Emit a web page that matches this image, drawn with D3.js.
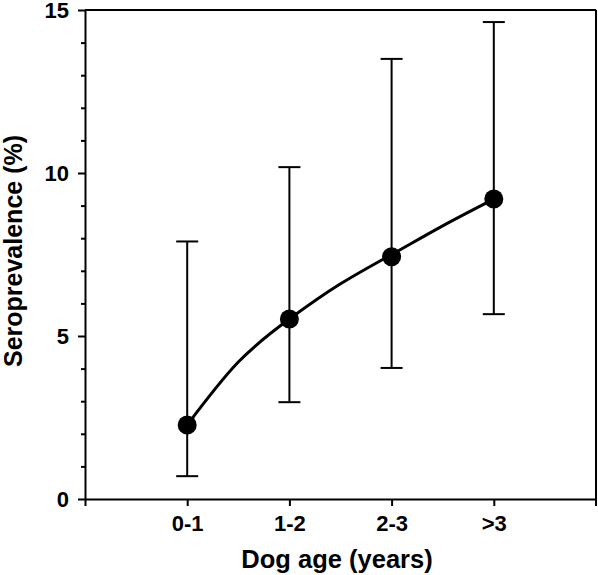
<!DOCTYPE html>
<html><head><meta charset="utf-8">
<script src="https://cdn.jsdelivr.net/npm/d3@7"></script>
<style>body{margin:0;background:#fff}svg{display:block}text{font-family:"Liberation Sans",Arial,sans-serif;font-weight:bold;fill:#000}</style>
</head><body>
<script>
const categories = ["0-1", "1-2", "2-3", ">3"];
const prevalence = [2.27, 5.52, 7.43, 9.2];
const lower = [0.7, 2.97, 4.02, 5.67];
const upper = [7.9, 10.18, 13.5, 14.63];
const yTicks = [0, 5, 10, 15];
// fitted trend curve at category positions (1 = "0-1" ... 4 = ">3")
const fitX = [1, 1.5, 2, 2.5, 3, 3.5, 4];
const fitY = [2.27, 4.2, 5.52, 6.6, 7.5, 8.38, 9.2];

const W = 598, H = 575;
const L = 85, R = 596, T = 10, B = 499;
const FONT = '"Liberation Sans",Arial,sans-serif';
const svg = d3.select("body").append("svg").attr("width", W).attr("height", H);

const x = d3.scaleLinear().domain([0, categories.length + 1]).range([L, R]);
const y = d3.scaleLinear().domain([0, 15]).range([B, T]);

// frame top & right
svg.append("line").attr("x1", L).attr("x2", R).attr("y1", T).attr("y2", T).attr("stroke", "#000").attr("stroke-width", 2);
svg.append("line").attr("x1", R).attr("x2", R).attr("y1", T).attr("y2", B + 7).attr("stroke", "#000").attr("stroke-width", 2);

// y axis
const yAxis = svg.append("g").attr("transform", `translate(${L},0)`)
  .call(d3.axisLeft(y).tickValues(yTicks).tickSize(7).tickSizeOuter(0).tickPadding(9));
yAxis.select(".domain").attr("stroke-width", 2);
yAxis.selectAll(".tick line").attr("stroke-width", 2);
yAxis.selectAll(".tick text").attr("font-size", 22).style("font-family", FONT).style("font-weight", "bold");
const yMinor = svg.append("g").attr("transform", `translate(${L},0)`)
  .call(d3.axisLeft(y).tickValues(d3.range(0, 16).filter(v => v % 5 !== 0)).tickSize(4).tickFormat(""));
yMinor.select(".domain").remove();
yMinor.selectAll(".tick line").attr("stroke-width", 2);

// x axis
const xAxis = svg.append("g").attr("transform", `translate(0,${B})`)
  .call(d3.axisBottom(x).tickValues(d3.range(0, categories.length + 1)).tickSize(7).tickSizeOuter(0).tickPadding(9)
    .tickFormat(i => i >= 1 && i <= categories.length ? categories[i - 1] : ""));
xAxis.select(".domain").attr("stroke-width", 2);
xAxis.selectAll(".tick line").attr("stroke-width", 2);
xAxis.selectAll(".tick text").attr("font-size", 22).style("font-family", FONT).style("font-weight", "bold");

// titles
svg.append("text").attr("x", 337).attr("y", 568).attr("text-anchor", "middle").attr("font-size", 25.5).text("Dog age (years)");
svg.append("text").attr("transform", `translate(22,251) rotate(-90)`).attr("text-anchor", "middle").attr("font-size", 25).text("Seroprevalence (%)");

const data = categories.map((c, i) => ({c, i: i + 1, v: prevalence[i], lo: lower[i], hi: upper[i]}));

// error bars
const eb = svg.append("g").attr("stroke", "#000").attr("stroke-width", 2);
data.forEach(d => {
  eb.append("line").attr("x1", x(d.i)).attr("x2", x(d.i)).attr("y1", y(d.lo)).attr("y2", y(d.hi));
  eb.append("line").attr("x1", x(d.i) - 11).attr("x2", x(d.i) + 11).attr("y1", y(d.lo)).attr("y2", y(d.lo));
  eb.append("line").attr("x1", x(d.i) - 11).attr("x2", x(d.i) + 11).attr("y1", y(d.hi)).attr("y2", y(d.hi));
});

// fitted curve
const fit = fitX.map((fx, k) => [fx, fitY[k]]);
svg.append("path").datum(fit).attr("fill", "none").attr("stroke", "#000").attr("stroke-width", 3)
  .attr("d", d3.line().x(d => x(d[0])).y(d => y(d[1])).curve(d3.curveNatural));

// points
svg.append("g").selectAll("circle").data(data).join("circle")
  .attr("cx", d => x(d.i)).attr("cy", d => y(d.v)).attr("r", 9.5).attr("fill", "#000");
</script>
</body></html>
